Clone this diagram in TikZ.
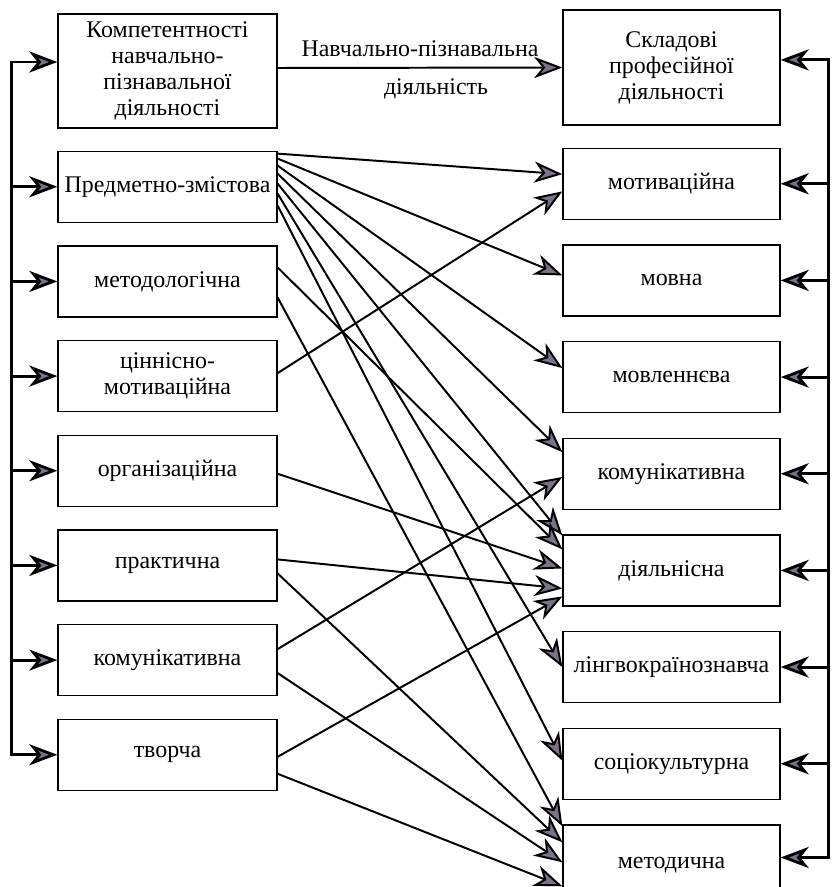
\documentclass[tikz,border=0pt]{standalone}
\usepackage{fontspec}
\setmainfont{Liberation Serif}
\usetikzlibrary{arrows.meta,positioning}
\definecolor{tipgray}{RGB}{125,112,138}

\begin{document}
\begin{tikzpicture}[font=\fontsize{17}{18.5}\selectfont, node distance=5.6mm,
    box/.style={draw, line width=0.9pt, minimum width=54.75mm, minimum height=17.75mm,
      inner sep=1pt, align=center},
    rbox/.style={box, minimum width=54.25mm},
    link/.style={-{Stealth[length=20pt,width=15pt,inset=6pt,fill=tipgray]}, line width=1.4pt},
    back/.style={-{Stealth[length=20pt,width=15pt,inset=6pt,fill=tipgray]}, line width=2pt, line cap=rect}]
  \useasboundingbox (0,0) rectangle (207.75mm,-221.75mm);

  % left column
  \node[box, minimum height=28.5mm] (kp) at (41.875mm,-17.75mm)
    {Компетентності\\навчально-\\пізнавальної\\діяльності};
  \node[box, below=5.5mm of kp] (pz) {Предметно-змістова};
  \node[box, below=of pz] (mt) {методологічна};
  \node[box, below=of mt] (cm) {ціннісно-\\мотиваційна};
  \node[box, below=of cm] (oh) {організаційна};
  \node[box, below=of oh] (pr) {практична};
  \node[box, below=of pr] (km) {комунікативна};
  \node[box, below=of km] (tv) {творча};

  % right column
  \node[rbox, minimum height=28.75mm] (sk) at (167.875mm,-16.875mm)
    {Складові\\професійної\\діяльності};
  \node[rbox, below=5.5mm of sk] (mv) {мотиваційна};
  \begin{scope}[node distance=6.1mm]
    \node[rbox, below=of mv] (mn) {мовна};
    \node[rbox, below=of mn] (ml) {мовленнєва};
    \node[rbox, below=of ml] (kr) {комунікативна};
    \node[rbox, below=of kr] (dl) {діяльнісна};
    \node[rbox, below=of dl] (lk) {лінгвокраїнознавча};
    \node[rbox, below=of lk] (sc) {соціокультурна};
    \node[rbox, below=of sc, minimum height=20mm] (md) {методична};
  \end{scope}

  % top arrow
  \draw[link] ([yshift=0.75mm]kp.east) --
    node[above=1.3mm] {Навчально-пізнавальна}
    node[below=1.3mm, xshift=4mm] {діяльність} (sk.west);

  % feedback lines
  \coordinate (lt) at ([xshift=-11.5mm,yshift=2.25mm]kp.west);
  \draw[back] (lt) -- ([yshift=2.25mm]kp.west);
  \draw[back] (lt) -- (lt |- tv.west) -- (tv.west);
  \foreach \n in {pz,mt,cm,oh,pr,km}
    \draw[back] (lt |- \n.west) -- (\n.west);

  \coordinate (rt) at ([xshift=12mm,yshift=1.9mm]sk.east);
  \coordinate (mdin) at ([yshift=-8.3mm]md.north east);
  \draw[back] (rt) -- ([yshift=1.9mm]sk.east);
  \draw[back] (rt) -- (rt |- mdin) -- (mdin);
  \foreach \n in {mv,mn,ml,kr,dl,lk,sc}
    \draw[back] (rt |- \n.east) -- (\n.east);

  % links
  \foreach \dy/\n/\ty in {0.75/mv/2.4, 2/mn/1.25, 3.75/ml/2.25, 5.75/kr/5.4,
      8.25/dl/8.75, 10.75/lk/0, 13.75/sc/0.75}
    \draw[link] ([yshift=-\dy mm]pz.north east) -- ([yshift=\ty mm]\n.west);
  \draw[link] ([yshift=3.5mm]mt.east) -- ([yshift=5.25mm]dl.west);
  \draw[link] ([yshift=-4mm]mt.east) -- ([yshift=-0.5mm]md.north west);
  \draw[link] ([yshift=0.75mm]cm.east) -- ([yshift=-1.9mm]mv.west);
  \draw[link] ([yshift=-0.75mm]oh.east) -- ([yshift=0.5mm]dl.west);
  \draw[link] ([yshift=1.5mm]pr.east) -- ([yshift=-4.5mm]dl.west);
  \draw[link] ([yshift=-2mm]pr.east) -- ([yshift=-4.5mm]md.north west);
  \draw[link] ([yshift=2.75mm]km.east) -- ([yshift=-0.8mm]kr.west);
  \draw[link] ([yshift=-3.25mm]km.east) -- ([yshift=-9.5mm]md.north west);
  \draw[link] ([yshift=-0.5mm]tv.east) -- ([yshift=-6.5mm]dl.west);
  \draw[link] ([yshift=-4.75mm]tv.east) -- ([yshift=-15.5mm]md.north west);
\end{tikzpicture}
\end{document}
